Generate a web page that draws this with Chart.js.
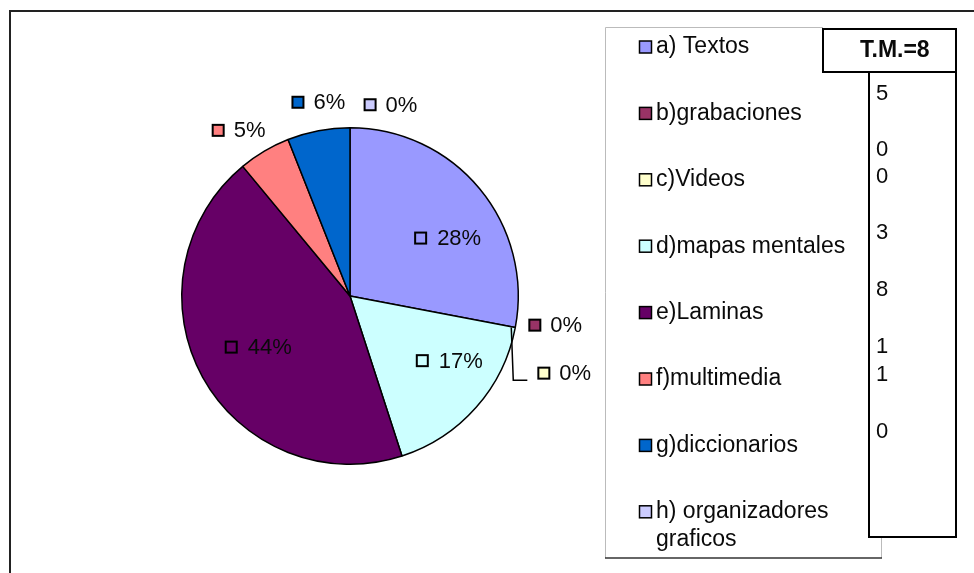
<!DOCTYPE html>
<html>
<head>
<meta charset="utf-8">
<script src="https://cdn.jsdelivr.net/npm/chart.js@4.4.1/dist/chart.umd.min.js"></script>
<style>
  html, body { margin: 0; padding: 0; background: #fff; }
  #wrap { width: 974px; height: 573px; position: relative; }
</style>
</head>
<body>
<div id="wrap"><canvas id="graficoPizza"></canvas></div>
<script>
// datos
const categorias = ["a) Textos", "b)grabaciones", "c)Videos", "d)mapas mentales", "e)Laminas", "f)multimedia", "g)diccionarios", "h) organizadores graficos"];
const porcentajes = [28, 0, 0, 17, 44, 5, 6, 0];
const frecuencias = [5, 0, 0, 3, 8, 1, 1, 0];
const totalMuestra = 8;
const colores = ["#9999FF", "#993366", "#FFFFCC", "#CCFFFF", "#660066", "#FF8080", "#0066CC", "#CCCCFF"];

const FUENTE = '"Liberation Sans", Arial, sans-serif';
const TINTA = "#0a0a0a";

// ajustes de posicion de las etiquetas (px), estilo Excel
const ajusteEtiqueta = [[10, 15], [11, -8], [20, 40], [14, -11], [9, -4], [-10, 5], [6, 1], [41, 7]];
// posiciones verticales de la columna de frecuencias
const filasTabla = [94, 150, 177, 233, 290, 347, 375, 432];

function cuadrito(ctx, x, y, lado, color, grosor) {
  ctx.fillStyle = color;
  ctx.fillRect(x, y, lado, lado);
  ctx.lineWidth = grosor;
  ctx.strokeStyle = "#000";
  ctx.strokeRect(x, y, lado, lado);
}

function partirTexto(ctx, texto, ancho) {
  const palabras = texto.split(" ");
  const lineas = [];
  let actual = "";
  palabras.forEach(p => {
    const prueba = actual ? actual + " " + p : p;
    if (ctx.measureText(prueba).width > ancho && actual) {
      lineas.push(actual);
      actual = p;
    } else {
      actual = prueba;
    }
  });
  lineas.push(actual);
  return lineas;
}

const decoracion = {
  id: "decoracion",
  afterDraw(chart) {
    const ctx = chart.ctx;
    ctx.save();

    // marco exterior
    ctx.strokeStyle = "#222";
    ctx.lineWidth = 2;
    ctx.beginPath();
    ctx.moveTo(10, 573);
    ctx.lineTo(10, 11);
    ctx.lineTo(974, 11);
    ctx.stroke();

    // caja de la leyenda
    ctx.strokeStyle = "#bbb";
    ctx.lineWidth = 1;
    ctx.beginPath();
    ctx.moveTo(823, 27.5);
    ctx.lineTo(605.5, 27.5);
    ctx.lineTo(605.5, 558);
    ctx.moveTo(881.5, 537);
    ctx.lineTo(881.5, 558);
    ctx.stroke();
    ctx.strokeStyle = "#333";
    ctx.lineWidth = 1.5;
    ctx.beginPath();
    ctx.moveTo(605, 558);
    ctx.lineTo(882, 558);
    ctx.stroke();

    // leyenda
    ctx.font = "23px " + FUENTE;
    ctx.textBaseline = "middle";
    ctx.textAlign = "left";
    categorias.forEach((cat, i) => {
      const y = 47 + i * 66.4;
      cuadrito(ctx, 639.5, y - 6, 12, colores[i], 1.5);
      ctx.fillStyle = TINTA;
      const lineas = partirTexto(ctx, cat, 205);
      lineas.forEach((l, k) => ctx.fillText(l, 656, y + k * 28));
    });

    // tabla T.M.
    ctx.strokeStyle = "#000";
    ctx.lineWidth = 2;
    ctx.strokeRect(823, 29, 133, 43);
    ctx.strokeRect(869, 72, 87, 465);
    ctx.font = "bold 23px " + FUENTE;
    ctx.fillStyle = TINTA;
    ctx.fillText("T.M.=" + totalMuestra, 860, 51);
    ctx.font = "22px " + FUENTE;
    frecuencias.forEach((f, i) => ctx.fillText(String(f), 876, filasTabla[i]));

    // etiquetas de porcentaje
    const arcos = chart.getDatasetMeta(0).data;
    arcos.forEach((arco, i) => {
      const { x, y, startAngle, endAngle, outerRadius } = arco.getProps(["x", "y", "startAngle", "endAngle", "outerRadius"], true);
      const medio = (startAngle + endAngle) / 2;
      const dentro = porcentajes[i] >= 10;
      const dist = dentro ? outerRadius * 0.68 : outerRadius + 30;
      const cx = x + Math.cos(medio) * dist + ajusteEtiqueta[i][0];
      const cy = y + Math.sin(medio) * dist + ajusteEtiqueta[i][1];
      const texto = porcentajes[i] + "%";
      const ancho = ctx.measureText(texto).width;
      const lado = 11;
      const hueco = dentro ? 11 : 10;
      const total = lado + hueco + ancho;
      const x0 = cx - total / 2;
      cuadrito(ctx, x0, cy - lado / 2, lado, colores[i], 2);
      ctx.fillStyle = TINTA;
      ctx.fillText(texto, x0 + lado + hueco, cy + 1);

      // linea guia para c)Videos
      if (i === 2) {
        const bx = x + Math.cos(medio) * outerRadius - 4;
        const by = y + Math.sin(medio) * outerRadius;
        ctx.strokeStyle = "#000";
        ctx.lineWidth = 1.5;
        ctx.beginPath();
        ctx.moveTo(bx, by);
        ctx.lineTo(bx + 2, cy + 7);
        ctx.lineTo(x0 - 11, cy + 7);
        ctx.stroke();
      }
    });

    ctx.restore();
  }
};

const ctxPizza = document.getElementById("graficoPizza");
new Chart(ctxPizza, {
  type: "pie",
  data: {
    labels: categorias,
    datasets: [{
      data: porcentajes,
      backgroundColor: colores,
      borderColor: "#000",
      borderWidth: 1.5
    }]
  },
  options: {
    responsive: true,
    maintainAspectRatio: false,
    animation: false,
    layout: { padding: { left: 181, right: 455, top: 127, bottom: 108 } },
    plugins: {
      legend: { display: false },
      tooltip: { enabled: false }
    }
  },
  plugins: [decoracion]
});
</script>
</body>
</html>
